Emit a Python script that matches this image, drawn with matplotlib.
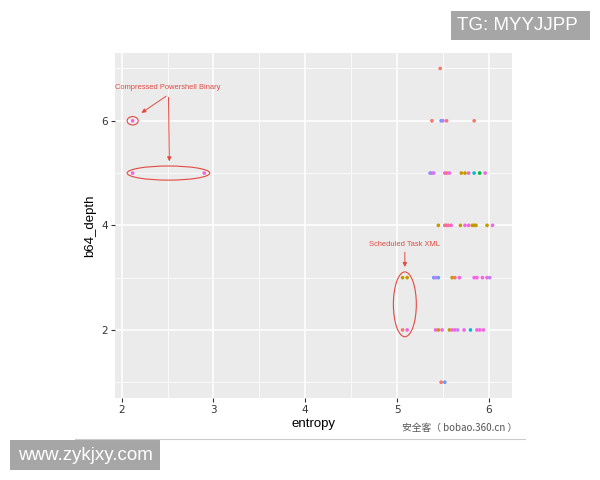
import matplotlib
matplotlib.use("Agg")
import matplotlib.pyplot as plt
from matplotlib.patches import Ellipse, Rectangle

# ---- data ----
entropy = [5.47,
           2.12, 5.38, 5.48, 5.50, 5.54, 5.84,
           2.12, 2.90, 5.36, 5.38, 5.40, 5.52, 5.54, 5.57, 5.70, 5.74, 5.78, 5.84, 5.90, 5.96,
           5.45, 5.52, 5.54, 5.56, 5.59, 5.69, 5.74, 5.78, 5.82, 5.84, 5.86, 5.98, 6.04,
           5.06, 5.11, 5.40, 5.42, 5.45, 5.60, 5.63, 5.68, 5.84, 5.87, 5.93, 5.98, 6.01,
           5.06, 5.11, 5.42, 5.45, 5.49, 5.57, 5.60, 5.63, 5.66, 5.73, 5.80, 5.87, 5.90, 5.94,
           5.48, 5.52]
b64_depth = [7,
             6, 6, 6, 6, 6, 6,
             5, 5, 5, 5, 5, 5, 5, 5, 5, 5, 5, 5, 5, 5,
             4, 4, 4, 4, 4, 4, 4, 4, 4, 4, 4, 4, 4,
             3, 3, 3, 3, 3, 3, 3, 3, 3, 3, 3, 3, 3,
             2, 2, 2, 2, 2, 2, 2, 2, 2, 2, 2, 2, 2, 2,
             1, 1]
group = ["R",
         "M", "R", "B", "P", "R", "R",
         "M", "M", "B", "M", "P", "M", "R", "M", "O", "O", "M", "T", "G", "M",
         "O", "R", "M", "R", "M", "O", "M", "M", "O", "O", "O", "O", "M",
         "O", "O", "B", "P", "B", "O", "R", "M", "M", "M", "M", "M", "P",
         "R", "M", "M", "O", "M", "O", "M", "M", "P", "M", "T", "M", "M", "M",
         "R", "B"]
palette = {"R": "#F8766D", "O": "#C49A00", "G": "#00BA38", "T": "#00BFC4",
           "B": "#619CFF", "M": "#F564E3", "P": "#C77CFF"}

x_ticks = [2, 3, 4, 5, 6]
y_ticks = [2, 4, 6]

ann_color = "#E24A40"

fig = plt.figure(figsize=(6, 4.8), dpi=100)
ax = fig.add_axes([0.192, 0.171, 0.661, 0.719])
ax.set_facecolor("#EBEBEB")
ax.set_xlim(1.93, 6.25)
ax.set_ylim(0.7, 7.3)
ax.set_xticks(x_ticks)
ax.set_yticks(y_ticks)
ax.set_xticks([2.5, 3.5, 4.5, 5.5], minor=True)
ax.set_yticks([1, 3, 5, 7], minor=True)
ax.grid(which="major", color="white", lw=1.1)
ax.grid(which="minor", color="white", lw=0.55)
ax.set_axisbelow(True)
for s in ax.spines.values():
    s.set_visible(False)
ax.tick_params(which="major", length=3, width=0.8, color="#333333",
               labelcolor="#333333", labelsize=7.5, pad=2)
ax.tick_params(which="minor", length=0)

ax.scatter(entropy, b64_depth, c=[palette[g] for g in group], s=7, lw=0, zorder=3)

ax.set_xlabel("entropy", fontsize=9.5, labelpad=2, family="Liberation Sans")
ax.set_ylabel("b64_depth", fontsize=9.5, labelpad=4, family="Liberation Sans")

# annotations
for (cx, cy, w, h) in [(2.12, 6.0, 0.12, 0.16), (2.51, 5.0, 0.9, 0.27), (5.085, 2.49, 0.25, 1.24)]:
    ax.add_patch(Ellipse((cx, cy), w, h, fill=False, ec=ann_color, lw=0.8, zorder=4))

ax.text(2.5, 6.63, "Compressed Powershell Binary", color=ann_color, fontsize=5.4,
        ha="center", va="center", family="Liberation Sans")
ax.annotate("", xy=(2.19, 6.12), xytext=(2.51, 6.5),
            arrowprops=dict(arrowstyle="-|>,head_length=0.25,head_width=0.12", color=ann_color, lw=0.7))
ax.annotate("", xy=(2.52, 5.17), xytext=(2.51, 6.5),
            arrowprops=dict(arrowstyle="-|>,head_length=0.25,head_width=0.12", color=ann_color, lw=0.7))
ax.text(5.08, 3.64, "Scheduled Task XML", color=ann_color, fontsize=5.4,
        ha="center", va="center", family="Liberation Sans")
ax.annotate("", xy=(5.085, 3.15), xytext=(5.085, 3.54),
            arrowprops=dict(arrowstyle="-|>,head_length=0.25,head_width=0.12", color=ann_color, lw=0.7))

# page decorations
fig.add_artist(plt.Line2D([75 / 600, 525 / 600], [1 - 439 / 480] * 2, color="#CCCCCC", lw=0.8))
fig.text(460 / 600, 1 - 428 / 480, "安全客（ bobao.360.cn ）", fontsize=7.0, color="#555555",
         ha="center", va="center", family=["Noto Sans CJK SC", "DejaVu Sans"])
fig.add_artist(Rectangle((451 / 600, 1 - 40 / 480), 139 / 600, 29 / 480,
                         transform=fig.transFigure, fc="#A6A6A6", ec="none"))
fig.text(517 / 600, 1 - 25.5 / 480, "TG: MYYJJPP", fontsize=13.5, color="white",
         ha="center", va="center", family="Liberation Sans")
fig.add_artist(Rectangle((10 / 600, 1 - 470 / 480), 150 / 600, 30 / 480,
                         transform=fig.transFigure, fc="#A6A6A6", ec="none"))
fig.text(85 / 600, 1 - 455 / 480, "www.zykjxy.com", fontsize=13.5, color="white",
         ha="center", va="center", family="Liberation Sans")

fig.savefig("out.png", dpi=100)
